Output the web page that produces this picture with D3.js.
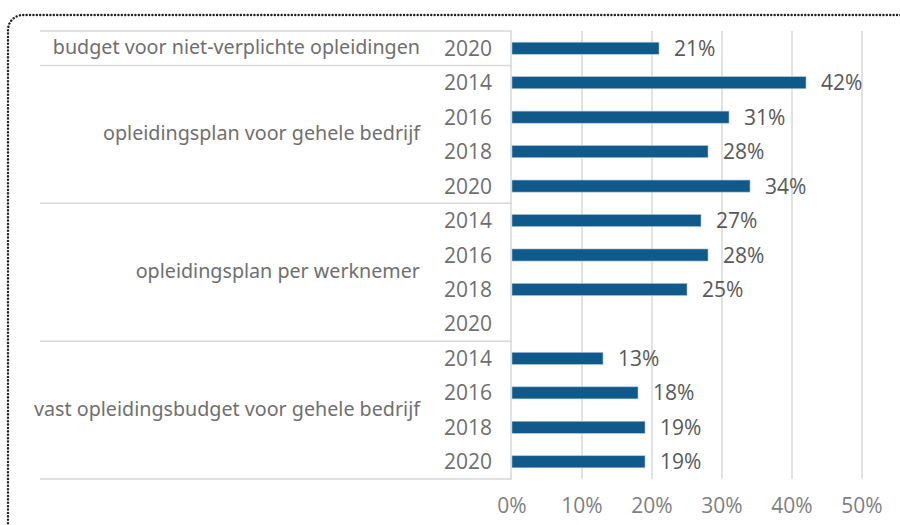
<!DOCTYPE html>
<html>
<head>
<meta charset="utf-8">
<script src="https://cdn.jsdelivr.net/npm/d3@7"></script>
<style>
  body { margin: 0; background: #fff; }
  svg { display: block; }
</style>
</head>
<body>
<svg id="chart" width="900" height="525"></svg>
<script>
// categories, years and values
var groups = [
    "budget voor niet-verplichte opleidingen",
    "opleidingsplan voor gehele bedrijf",
    "opleidingsplan per werknemer",
    "vast opleidingsbudget voor gehele bedrijf"
]
var groupYears = [
    ["2020"],
    ["2014", "2016", "2018", "2020"],
    ["2014", "2016", "2018", "2020"],
    ["2014", "2016", "2018", "2020"]
]
var groupValues = [
    [21],
    [42, 31, 28, 34],
    [27, 28, 25, null],
    [13, 18, 19, 19]
]
var xTicks = [0, 10, 20, 30, 40, 50]

// flatten into rows
var rows = []
groups.forEach(function (g, gi) {
    groupYears[gi].forEach(function (yr, i) {
        rows.push({ id: gi + "-" + yr, group: gi, year: yr, value: groupValues[gi][i] })
    })
})

var plotTop = 31, plotBottom = 479, plotLeft = 512, plotRight = 862, labelLeft = 40

var svg = d3.select("#chart")

// dotted rounded frame (only top and left visible)
svg.append("path")
    .attr("d", "M8,530 L8,30 A15,15 0 0 1 23,15 L905,15")
    .attr("fill", "none")
    .attr("stroke", "#222")
    .attr("stroke-width", 2.4)
    .attr("stroke-linecap", "round")
    .attr("stroke-dasharray", "0.1 3.3")

var x = d3.scaleLinear().domain([0, 50]).range([plotLeft, plotRight])
var y = d3.scaleBand()
    .domain(rows.map((d) => d.id))
    .range([plotTop, plotBottom])
    .paddingInner(0.65)
    .paddingOuter(0.325)
var step = y.step()

// gridlines
svg.append("g")
    .selectAll("line")
    .data(xTicks.slice(1))
    .enter()
    .append("line")
    .attr("x1", (d) => x(d)).attr("x2", (d) => x(d))
    .attr("y1", plotTop).attr("y2", plotBottom)
    .attr("stroke", "#d9d9d9")
    .attr("stroke-width", 1.5)

// group separators of the label table
var bounds = [0]
groups.forEach(function (g, gi) { bounds.push(bounds[gi] + groupYears[gi].length) })

svg.append("g")
    .selectAll("line")
    .data(bounds)
    .enter()
    .append("line")
    .attr("x1", labelLeft).attr("x2", x(0))
    .attr("y1", (d) => plotTop + d * step).attr("y2", (d) => plotTop + d * step)
    .attr("stroke", "#d9d9d9")
    .attr("stroke-width", 1.5)

svg.append("line")
    .attr("x1", x(0) - 1).attr("x2", x(0) - 1)
    .attr("y1", plotTop).attr("y2", plotBottom)
    .attr("stroke", "#d9d9d9")
    .attr("stroke-width", 1.5)

// bars
svg.append("g")
    .selectAll("rect")
    .data(rows.filter((d) => d.value != null))
    .enter()
    .append("rect")
    .attr("x", x(0))
    .attr("y", (d) => y(d.id))
    .attr("width", (d) => x(d.value) - x(0))
    .attr("height", y.bandwidth())
    .attr("fill", "#0f5a8b")
    .attr("stroke", "#a9c3d6")
    .attr("stroke-width", 0.6)

// value labels
svg.append("g")
    .selectAll("text")
    .data(rows.filter((d) => d.value != null))
    .enter()
    .append("text")
    .attr("x", (d) => x(d.value) + 15)
    .attr("y", (d) => y(d.id) + y.bandwidth() / 2)
    .attr("dy", "0.36em")
    .attr("font-family", "Open Sans")
    .attr("font-size", 21)
    .attr("fill", "#595959")
    .text((d) => d.value + "%")

// year labels
svg.append("g")
    .selectAll("text")
    .data(rows)
    .enter()
    .append("text")
    .attr("x", 492)
    .attr("y", (d) => y(d.id) + y.bandwidth() / 2)
    .attr("dy", "0.36em")
    .attr("text-anchor", "end")
    .attr("font-family", "Open Sans")
    .attr("font-size", 21)
    .attr("fill", "#6f6f6f")
    .text((d) => d.year)

// group labels
svg.append("g")
    .selectAll("text")
    .data(groups)
    .enter()
    .append("text")
    .attr("x", 420)
    .attr("y", (d, i) => plotTop + (bounds[i] + bounds[i + 1]) / 2 * step)
    .attr("dy", "0.3em")
    .attr("text-anchor", "end")
    .attr("font-family", "Noto Sans")
    .attr("font-size", 19.7)
    .attr("fill", "#6f6f6f")
    .text((d) => d)

// x axis labels
svg.append("g")
    .selectAll("text")
    .data(xTicks)
    .enter()
    .append("text")
    .attr("x", (d) => x(d))
    .attr("y", 505)
    .attr("dy", "0.36em")
    .attr("text-anchor", "middle")
    .attr("font-family", "Open Sans")
    .attr("font-size", 21)
    .attr("fill", "#7f7f7f")
    .text((d) => d + "%")
</script>
</body>
</html>
